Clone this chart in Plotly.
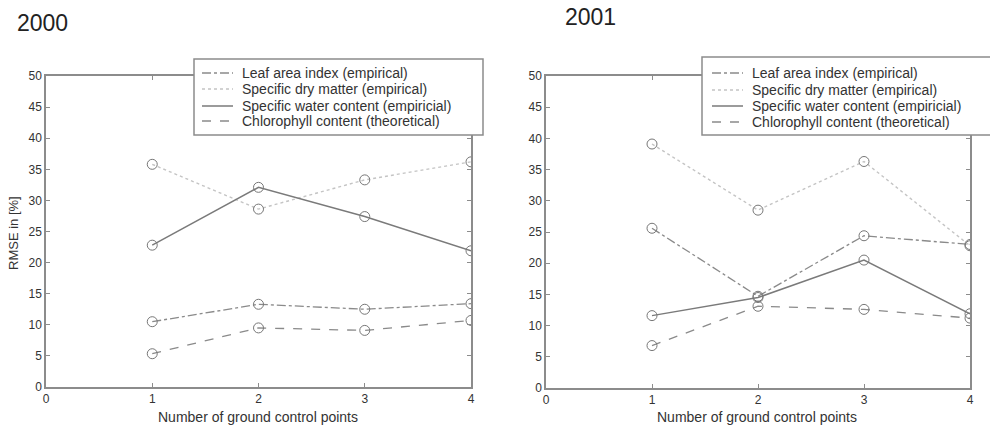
import plotly.graph_objects as go

# ---- data ----
gcp = [1, 2, 3, 4]
series_names = [
    "Leaf area index (empirical)",
    "Specific dry matter (empirical)",
    "Specific water content (empiricial)",
    "Chlorophyll content (theoretical)",
]
# 2000
lai_2000 = [10.5, 13.3, 12.5, 13.4]
sdm_2000 = [35.8, 28.6, 33.3, 36.2]
swc_2000 = [22.8, 32.1, 27.4, 21.9]
chl_2000 = [5.35, 9.5, 9.1, 10.7]
# 2001
lai_2001 = [25.6, 14.7, 24.4, 23.0]
sdm_2001 = [39.1, 28.5, 36.3, 22.8]
swc_2001 = [11.6, 14.5, 20.5, 11.9]
chl_2001 = [6.8, 13.1, 12.6, 11.2]

y_ticks = [0, 5, 10, 15, 20, 25, 30, 35, 40, 45, 50]
x_ticks = [0, 1, 2, 3, 4]
panel_titles = ["2000", "2001"]
x_title = "Number of ground control points"
y_title = "RMSE in [%]"

styles = [
    dict(dash="dashdot", color="#8a8a8a", width=1.3),
    dict(dash="dot", color="#c4c4c4", width=1.4),
    dict(dash="solid", color="#7a7a7a", width=1.5),
    dict(dash="dash", color="#8a8a8a", width=1.3),
]

W, H = 990, 427
OFF = 0  # body margin is removed by the post script below
FONT = "Liberation Sans, Arial, sans-serif"
TXT = "#333333"
FRAME = "#8c8c8c"

def px_x(p):
    return (p - OFF) / W

def px_y(p):
    return (H - (p - OFF)) / H

fig = go.Figure()

panels = [
    [lai_2000, sdm_2000, swc_2000, chl_2000],
    [lai_2001, sdm_2001, swc_2001, chl_2001],
]
for panel, data in enumerate(panels):
    xa = "x" if panel == 0 else "x2"
    ya = "y" if panel == 0 else "y2"
    for name, vals, st in zip(series_names, data, styles):
        fig.add_trace(go.Scatter(
            x=gcp, y=vals, name=name, mode="lines",
            line=dict(color=st["color"], dash=st["dash"], width=st["width"]),
            xaxis=xa, yaxis=ya, showlegend=False, hoverinfo="skip",
        ))
    for name, vals, st in zip(series_names, data, styles):
        fig.add_trace(go.Scatter(
            x=gcp, y=vals, name=name, mode="markers",
            marker=dict(symbol="circle-open", size=10, color="#777777",
                        line=dict(width=1, color="#777777")),
            xaxis=xa, yaxis=ya, showlegend=False,
        ))

axis_common = dict(
    showgrid=False, zeroline=False, showline=True, linecolor=FRAME,
    linewidth=1.5, mirror="ticks", ticks="inside", ticklen=4,
    tickcolor=FRAME, tickwidth=1,
    tickfont=dict(family=FONT, size=12, color=TXT),
)

shapes = []
annotations = []

# manual legends (box, line samples, labels)
legend_boxes = [
    dict(x0=194, x1=483, y0=59, y1=135, lx0=202, lx1=233, tx=241,
         rows=[73, 89, 106, 121]),
    dict(x0=702, x1=1000, y0=57, y1=135, lx0=712, lx1=743, tx=751,
         rows=[73, 90, 106, 122]),
]
for lb in legend_boxes:
    shapes.append(dict(type="rect", xref="paper", yref="paper", layer="above",
                       x0=px_x(lb["x0"]), x1=px_x(lb["x1"]),
                       y0=px_y(lb["y1"]), y1=px_y(lb["y0"]),
                       line=dict(color=FRAME, width=1.5), fillcolor="white"))
    for name, st, ry in zip(series_names, styles, lb["rows"]):
        shapes.append(dict(type="line", xref="paper", yref="paper", layer="above",
                           x0=px_x(lb["lx0"]), x1=px_x(lb["lx1"]),
                           y0=px_y(ry), y1=px_y(ry),
                           line=dict(color=st["color"], dash=st["dash"],
                                     width=st["width"])))
        annotations.append(dict(text=name, x=px_x(lb["tx"]), y=px_y(ry),
                                xref="paper", yref="paper", xanchor="left",
                                yanchor="middle", showarrow=False, borderpad=0,
                                font=dict(family=FONT, size=14, color=TXT)))

# panel titles and axis titles
annotations += [
    dict(text=panel_titles[0], x=px_x(16), y=px_y(23), xref="paper", yref="paper",
         xanchor="left", yanchor="middle", showarrow=False, borderpad=0,
         font=dict(family=FONT, size=23, color="#222222")),
    dict(text=panel_titles[1], x=px_x(564), y=px_y(17), xref="paper", yref="paper",
         xanchor="left", yanchor="middle", showarrow=False, borderpad=0,
         font=dict(family=FONT, size=23, color="#222222")),
    dict(text=x_title, x=px_x(258), y=px_y(417), xref="paper", yref="paper",
         xanchor="center", yanchor="middle", showarrow=False, borderpad=0,
         font=dict(family=FONT, size=14, color=TXT)),
    dict(text=x_title, x=px_x(757), y=px_y(417), xref="paper", yref="paper",
         xanchor="center", yanchor="middle", showarrow=False, borderpad=0,
         font=dict(family=FONT, size=14, color=TXT)),
    dict(text=y_title, x=px_x(14), y=px_y(233), xref="paper", yref="paper",
         xanchor="center", yanchor="middle", textangle=-90, showarrow=False,
         borderpad=0, font=dict(family=FONT, size=13, color=TXT)),
]

fig.update_layout(
    width=W, height=H,
    margin=dict(l=0, r=0, t=0, b=0, pad=0, autoexpand=False),
    paper_bgcolor="white", plot_bgcolor="white",
    showlegend=False,
    xaxis=dict(domain=[px_x(46), px_x(471)], range=[0, 4], tickvals=x_ticks,
               anchor="y", **axis_common),
    yaxis=dict(domain=[px_y(387), px_y(76)], range=[0, 50], tickvals=y_ticks,
               anchor="x", **axis_common),
    xaxis2=dict(domain=[px_x(546), px_x(970)], range=[0, 4], tickvals=x_ticks,
                anchor="y2", **axis_common),
    yaxis2=dict(domain=[px_y(388), px_y(76)], range=[0, 50], tickvals=y_ticks,
                anchor="x2", **axis_common),
    shapes=shapes,
    annotations=annotations,
)

fig.write_html("out.html",
               config={"displayModeBar": False},
               post_script="document.body.style.margin='0px';")
